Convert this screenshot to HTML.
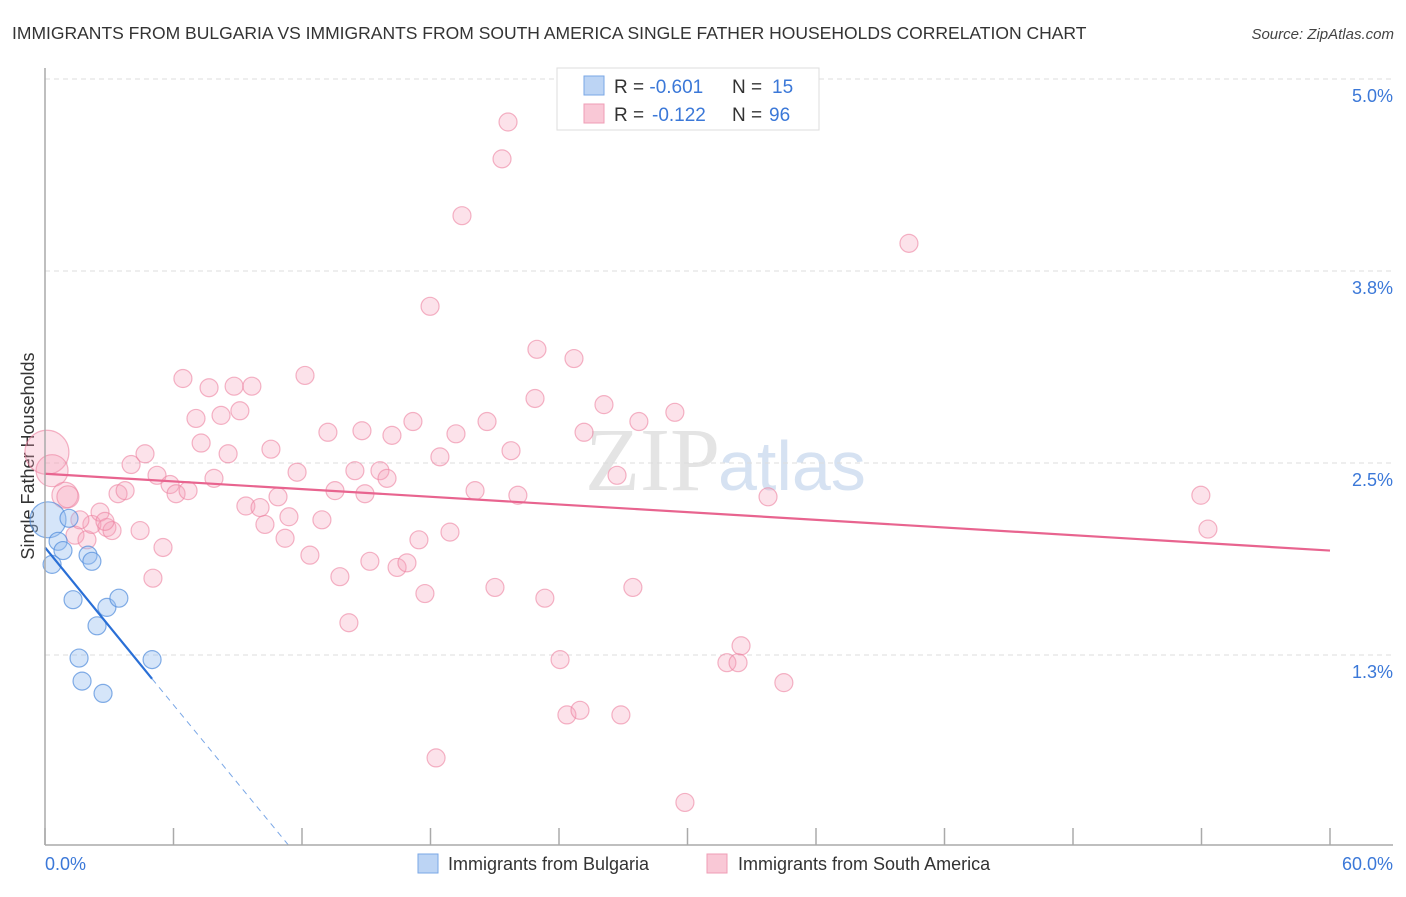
<!DOCTYPE html>
<html><head><meta charset="utf-8"><style>
body{margin:0;background:#fff;font-family:"Liberation Sans",sans-serif}
</style></head><body>
<svg width="1406" height="892" xmlns="http://www.w3.org/2000/svg" id="svg" style="font-family:'Liberation Sans',sans-serif">
<text x="12" y="39" font-size="17.5" fill="#333">IMMIGRANTS FROM BULGARIA VS IMMIGRANTS FROM SOUTH AMERICA SINGLE FATHER HOUSEHOLDS CORRELATION CHART</text>
<text x="1394" y="39" font-size="15" fill="#444" font-style="italic" text-anchor="end">Source: ZipAtlas.com</text>
<text x="720" y="490" font-size="90" fill="#e4e4e4" text-anchor="end" font-family="Liberation Serif">ZIP</text>
<text x="718" y="490" font-size="70" fill="#d6e2f2">atlas</text>
<text transform="translate(34,456) rotate(-90)" font-size="18" fill="#333" text-anchor="middle">Single Father Households</text>
<g id="grid"></g><g id="pts"></g><g id="lines"></g>
<line x1="45" y1="68" x2="45" y2="845" stroke="#aaa" stroke-width="1.5"/>
<line x1="45" y1="845" x2="1393" y2="845" stroke="#aaa" stroke-width="1.5"/>
<text x="45" y="870" font-size="18" fill="#3b78d8">0.0%</text>
<text x="1393" y="870" font-size="18" fill="#3b78d8" text-anchor="end">60.0%</text>
<g>
<rect x="557" y="68" width="262" height="62" fill="#fff" stroke="#ddd"/>
<rect x="584" y="76" width="20" height="19" fill="#bcd4f4" stroke="#7aa7e6"/>
<rect x="584" y="104" width="20" height="19" fill="#f9c8d6" stroke="#ef9db5"/>
<text x="614" y="93" font-size="19" fill="#333">R = <tspan fill="#3b78d8">-0.601</tspan><tspan x="732">N = </tspan><tspan fill="#3b78d8" x="772">15</tspan></text>
<text x="614" y="121" font-size="19" fill="#333">R = <tspan fill="#3b78d8" x="652">-0.122</tspan><tspan x="732">N = </tspan><tspan fill="#3b78d8" x="769">96</tspan></text>
</g>
<g>
<rect x="418" y="854" width="20" height="19" fill="#bcd4f4" stroke="#7aa7e6"/>
<text x="448" y="870" font-size="18" fill="#333">Immigrants from Bulgaria</text>
<rect x="707" y="854" width="20" height="19" fill="#f9c8d6" stroke="#ef9db5"/>
<text x="738" y="870" font-size="18" fill="#333">Immigrants from South America</text>
</g>
</svg>
<script>
const yTicks=[1.25,2.5,3.75,5.0];
const yTickLabels=["1.3%","2.5%","3.8%","5.0%"];
const xTicks=[0,6,12,18,24,30,36,42,48,54,60];
const blueX=[0.14,1.12,0.61,0.84,0.33,2.01,2.19,1.31,2.43,2.89,3.45,1.59,5.0,1.73,2.71];
const blueY=[2.13,2.14,1.99,1.93,1.84,1.90,1.86,1.61,1.44,1.56,1.62,1.23,1.22,1.08,1.00];
const blueR=[18,9,9,9,9,9,9,9,9,9,9,9,9,9,9];
const pinkX=[0.09,0.33,0.93,1.07,1.40,1.96,2.19,1.63,2.57,2.89,3.13,2.80,3.41,3.74,4.02,4.67,4.44,5.23,5.51,5.04,5.84,6.12,6.68,6.44,7.05,7.29,7.66,7.89,8.22,8.55,8.83,9.10,9.66,9.38,10.04,10.27,10.55,10.88,11.39,11.21,12.14,11.77,12.37,12.93,13.21,13.54,13.77,14.19,14.80,14.94,14.47,15.17,15.64,15.97,16.20,16.44,16.90,17.18,17.46,17.74,17.98,18.26,18.44,18.91,19.19,19.47,20.08,20.64,21.01,21.34,21.62,21.76,22.08,22.97,22.88,23.34,24.05,24.37,24.70,24.98,25.17,26.10,26.71,26.89,27.45,27.73,29.41,29.88,31.84,32.36,32.50,33.76,34.50,40.34,53.97,54.30];
const pinkY=[2.57,2.45,2.29,2.28,2.03,2.00,2.10,2.13,2.18,2.08,2.06,2.12,2.30,2.32,2.49,2.56,2.06,2.42,1.95,1.75,2.36,2.30,2.32,3.05,2.79,2.63,2.99,2.40,2.81,2.56,3.00,2.84,3.00,2.22,2.21,2.10,2.59,2.28,2.15,2.01,3.07,2.44,1.90,2.13,2.70,2.32,1.76,1.46,2.71,2.30,2.45,1.86,2.45,2.40,2.68,1.82,1.85,2.77,2.00,1.65,3.52,0.58,2.54,2.05,2.69,4.11,2.32,2.77,1.69,4.48,4.72,2.58,2.29,3.24,2.92,1.62,1.22,0.86,3.18,0.89,2.70,2.88,2.42,0.86,1.69,2.77,2.83,0.29,1.20,1.20,1.31,2.28,1.07,3.93,2.29,2.07];
const pinkR=[22,16,13,11];
const blueTrend=[0,1.95,5.0,1.095];
const blueDash=[5.0,1.095,11.44,0.0];
const pinkTrend=[0,2.43,60,1.93];
const NS="http://www.w3.org/2000/svg";
const sx=v=>45+v/60*1285;
const sy=v=>847-v/1.25*192;
function mk(t,a,p){const e=document.createElementNS(NS,t);for(const k in a)e.setAttribute(k,a[k]);p.appendChild(e);return e;}
const grid=document.getElementById('grid'),pts=document.getElementById('pts'),lines=document.getElementById('lines');
yTicks.forEach((t,i)=>{
 const l=mk('line',{x1:45,x2:1393,y1:sy(t),y2:sy(t),stroke:'#ddd','stroke-dasharray':'5,4'},grid);
 
 
 const tx=mk('text',{x:1393,y:sy(t)+23,'font-size':18,fill:'#3b78d8','text-anchor':'end'},grid);
 tx.textContent=yTickLabels[i];
 
 
});
xTicks.forEach(t=>{
 const l=mk('line',{x1:sx(t),x2:sx(t),y1:828,y2:845,stroke:'#aaa','stroke-width':1.5},grid);
 
 
});
pinkX.forEach((x,i)=>{
 const c=mk('circle',{cx:sx(x),cy:sy(pinkY[i]),r:pinkR[i]||9,fill:'rgba(245,160,185,0.3)',stroke:'rgba(236,130,160,0.6)','stroke-width':1.2},pts);
 
 
});
blueX.forEach((x,i)=>{
 const c=mk('circle',{cx:sx(x),cy:sy(blueY[i]),r:blueR[i],fill:'rgba(150,190,240,0.4)',stroke:'rgba(80,140,220,0.7)','stroke-width':1.2},pts);
 
 
});
let l1=mk('line',{x1:sx(pinkTrend[0]),y1:sy(pinkTrend[1]),x2:sx(pinkTrend[2]),y2:sy(pinkTrend[3]),stroke:'#e8648f','stroke-width':2.2},lines);


let l2=mk('line',{x1:sx(blueTrend[0]),y1:sy(blueTrend[1]),x2:sx(blueTrend[2]),y2:sy(blueTrend[3]),stroke:'#2a6fd6','stroke-width':2.2},lines);


let l3=mk('line',{x1:sx(blueDash[0]),y1:sy(blueDash[1]),x2:sx(blueDash[2]),y2:sy(blueDash[3]),stroke:'#7aa7e6','stroke-width':1,'stroke-dasharray':'6,5'},lines);


</script>
</body></html>
